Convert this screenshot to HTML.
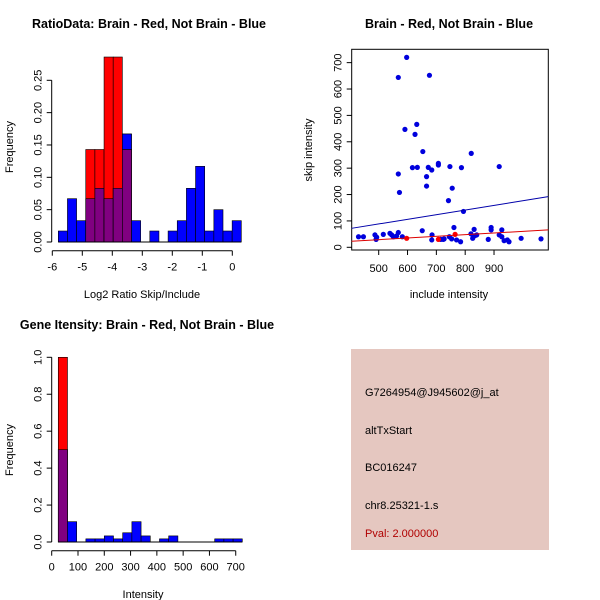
<!DOCTYPE html>
<html><head><meta charset="utf-8"><style>
html,body{margin:0;padding:0;background:#fff;}
svg{display:block;font-family:"Liberation Sans",Arial,sans-serif;}
</style></head><body>
<svg id="c" width="600" height="600" viewBox="0 0 600 600">
<rect x="0" y="0" width="600" height="600" fill="#fff"/>
<text x="149" y="28" font-size="12.5" font-weight="bold" text-anchor="middle">RatioData: Brain - Red, Not Brain - Blue</text>
<text x="449" y="28" font-size="12.5" font-weight="bold" text-anchor="middle">Brain - Red, Not Brain - Blue</text>
<text x="147" y="329" font-size="12.5" font-weight="bold" text-anchor="middle">Gene Itensity: Brain - Red, Not Brain - Blue</text>
<text x="142" y="298" font-size="11" text-anchor="middle">Log2 Ratio Skip/Include</text>
<text transform="translate(13,147) rotate(-90)" font-size="11" text-anchor="middle">Frequency</text>
<text x="449" y="298" font-size="11" text-anchor="middle">include intensity</text>
<text transform="translate(312,150) rotate(-90)" font-size="11" text-anchor="middle">skip intensity</text>
<text x="143" y="598" font-size="11" text-anchor="middle">Intensity</text>
<text transform="translate(13,450) rotate(-90)" font-size="11" text-anchor="middle">Frequency</text>
<g>
<rect x="351" y="349" width="198" height="201" fill="#e5c7c0"/>
<text x="365" y="396" font-size="11">G7264954@J945602@j_at</text>
<text x="365" y="434" font-size="11">altTxStart</text>
<text x="365" y="471" font-size="11">BC016247</text>
<text x="365" y="509" font-size="11">chr8.25321-1.s</text>
<text x="365" y="537" font-size="11" fill="#b00000">Pval: 2.000000</text>
</g>
</svg>
<script>
// ---- Ratio histogram data ----
const ratioStart = -5.8, ratioBinW = 0.305;
const ratioBlue = [0.017,0.067,0.033,0.067,0.083,0.067,0.083,0.167,0.033,0,0.017,0,0.017,0.033,0.083,0.117,0.017,0.05,0.017,0.033];
const ratioRed  = [0,0,0,0.143,0.143,0.286,0.286,0.143,0,0,0,0,0,0,0,0,0,0,0,0];
const ratioXTicks = [-6,-5,-4,-3,-2,-1,0];
const ratioYTicks = ["0.00","0.05","0.10","0.15","0.20","0.25"];
// ---- Intensity histogram data ----
const intStart = 25, intBinW = 35;
const intBlue = [0.5,0.11,0,0.017,0.017,0.033,0.017,0.05,0.11,0.033,0,0.017,0.033,0,0,0,0,0.017,0.017,0.017];
const intRed  = [1.0,0,0,0,0,0,0,0,0,0,0,0,0,0,0,0,0,0,0,0];
const intXTicks = [0,100,200,300,400,500,600,700];
const intYTicks = ["0.0","0.2","0.4","0.6","0.8","1.0"];
// ---- Scatter data ----
const blueX = [430,447,487,491,493,516,539,545,551,562,568,582,597,568,568,572,591,626,632,617,653,634,666,666,672,684,707,707,676,747,755,742,787,794,821,918,651,685,684,715,727,745,753,761,770,784,820,826,831,834,840,880,890,890,918,927,927,935,946,952,994,1063,724];
const blueY = [40,40,47,30,38,49,53,47,40,43,56,40,720,644,278,208,447,428,466,302,363,303,268,232,303,293,318,312,652,306,224,177,302,136,356,306,63,47,28,30,32,40,32,75,28,21,51,34,68,44,47,30,75,66,47,66,40,25,28,21,34,32,30];
const redX = [597,707,765];
const redY = [34,30,49];
const blueFit = [406,72,1088,192];
const redFit = [406,23,1088,66];
const scatXTicks = [500,600,700,800,900];
const scatYTicks = [0,100,200,300,400,500,600,700];

const svg = document.getElementById('c');
const NS = 'http://www.w3.org/2000/svg';
function mk(tag, attrs){const e=document.createElementNS(NS,tag);for(const k in attrs)e.setAttribute(k,attrs[k]);svg.appendChild(e);return e;}

function hist(cfg){
  const {blue, red, start, w, sx, sy, xt, yt, yv, axY, axX, prefix} = cfg;
  const base = sy(0);
  for(let i=0;i<blue.length;i++){
    const x0=sx(start+i*w), x1=sx(start+(i+1)*w);
    const b=blue[i], r=red[i], m=Math.min(b,r);
    if(b>0){const e=mk('rect',{x:x0,y:sy(b),width:x1-x0,height:base-sy(b),fill:'#0000ff',stroke:'#000','stroke-width':0.6});
      
      }
    if(r>0){const e=mk('rect',{x:x0,y:sy(r),width:x1-x0,height:base-sy(r),fill:'#ff0000',stroke:'#000','stroke-width':0.6});
      
      
      if(b>r){const e2=mk('rect',{x:x0,y:sy(b),width:x1-x0,height:sy(r)-sy(b),fill:'#0000ff',stroke:'#000','stroke-width':0.6});
        
        }}
    if(m>0){const e=mk('rect',{x:x0,y:sy(m),width:x1-x0,height:base-sy(m),fill:'#800080',stroke:'#000','stroke-width':0.6});
      
      }
  }
  const xa=mk('line',{x1:sx(xt[0]),x2:sx(xt[xt.length-1]),y1:axX,y2:axX,stroke:'#000'});
  
  
  xt.forEach(t=>{mk('line',{x1:sx(t),x2:sx(t),y1:axX,y2:axX+5,stroke:'#000'});
    const tx=mk('text',{x:sx(t),y:axX+20,'font-size':11,'text-anchor':'middle'});tx.textContent=t;
    
    });
  const ya=mk('line',{x1:axY,x2:axY,y1:sy(yv[0]),y2:sy(yv[yv.length-1]),stroke:'#000'});
  
  
  yv.forEach((v,i)=>{mk('line',{x1:axY-5,x2:axY,y1:sy(v),y2:sy(v),stroke:'#000'});
    const tx=mk('text',{x:0,y:0,'font-size':11,'text-anchor':'middle',transform:`translate(${axY-10},${sy(v)}) rotate(-90)`});tx.textContent=yt[i];
    
    });
  const bl=mk('line',{x1:sx(start),x2:sx(start+blue.length*w),y1:base,y2:base,stroke:'#000'});
  
  
}

hist({blue:ratioBlue,red:ratioRed,start:ratioStart,w:ratioBinW,
  sx:v=>52.3+(v+6)*30, sy:v=>242-v*646.8, xt:ratioXTicks, yt:ratioYTicks,
  yv:ratioYTicks.map(Number), axY:51.7, axX:250.7, prefix:'ratio'});
hist({blue:intBlue,red:intRed,start:intStart,w:intBinW,
  sx:v=>51.7+v*0.2629, sy:v=>542-v*184.7, xt:intXTicks, yt:intYTicks,
  yv:intYTicks.map(Number), axY:51.7, axX:550.7, prefix:'intensity'});

const px=v=>378.7+(v-500)*0.2883, py=v=>247.3-v*0.2638;
const box=mk('rect',{x:351.7,y:49.3,width:196.6,height:200.7,fill:'none',stroke:'#000'});


scatXTicks.forEach(t=>{mk('line',{x1:px(t),x2:px(t),y1:250,y2:255,stroke:'#000'});
  const tx=mk('text',{x:px(t),y:272,'font-size':11,'text-anchor':'middle'});tx.textContent=t;
  
  });
scatYTicks.forEach(t=>{mk('line',{x1:346.7,x2:351.7,y1:py(t),y2:py(t),stroke:'#000'});
  const tx=mk('text',{x:0,y:0,'font-size':11,'text-anchor':'middle',transform:`translate(${341.5},${py(t)}) rotate(-90)`});tx.textContent=t;
  
  });
blueX.forEach((x,i)=>{const c=mk('circle',{cx:px(x),cy:py(blueY[i]),r:2.6,fill:'#0000dd'});
  
  });
redX.forEach((x,i)=>{const c=mk('circle',{cx:px(x),cy:py(redY[i]),r:2.6,fill:'#ff0000'});
  
  });
const bfl=mk('line',{x1:px(blueFit[0]),y1:py(blueFit[1]),x2:px(blueFit[2]),y2:py(blueFit[3]),stroke:'#0000aa','stroke-width':1});


const rfl=mk('line',{x1:px(redFit[0]),y1:py(redFit[1]),x2:px(redFit[2]),y2:py(redFit[3]),stroke:'#dd0000','stroke-width':1});


</script>
</body></html>
